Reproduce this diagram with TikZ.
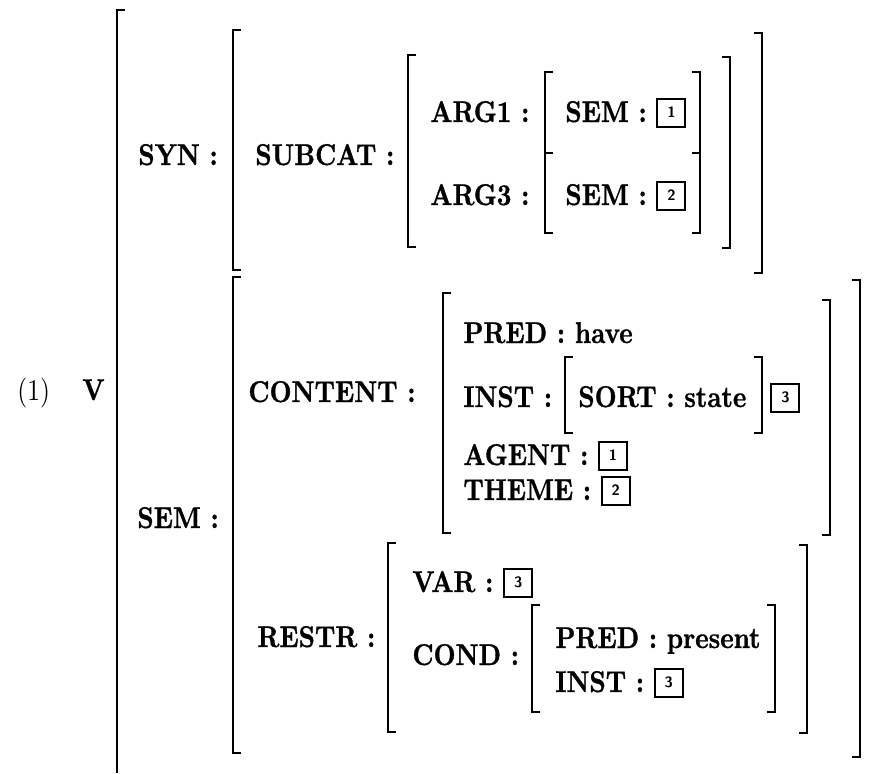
\documentclass[tikz,border=0pt]{standalone}
\usepackage{fontspec}
\usepackage{tikz}
\newfontfamily\avmfont{lmroman10}[Extension=.otf, UprightFont=*-regular, BoldFont=*-bold, FakeStretch=0.85, BoldFeatures={FakeBold=1}]

\newcommand{\tagnum}[1]{{\setlength{\fboxsep}{1.5pt}\setlength{\fboxrule}{1pt}\fbox{\makebox[10pt][c]{\rule[-0.6pt]{0pt}{10pt}\raisebox{2.2pt}{\fontsize{7.5}{7.5}\selectfont\sffamily\bfseries #1}}}}}
\newcommand{\lbrk}[3]{\draw[brk] (#1+8,#2) -- (#1,#2) -- (#1,#3) -- (#1+8,#3);}
\newcommand{\rbrk}[3]{\draw[brk] (#1-8,#2) -- (#1,#2) -- (#1,#3) -- (#1-8,#3);}

\begin{document}
\begin{tikzpicture}[
x=0.5pt, y=-0.5pt,
feat/.style={anchor=base west, inner sep=0pt, font=\avmfont\fontsize{15}{18}\selectfont\bfseries},
plain/.style={anchor=base west, inner sep=0pt, font=\avmfont\fontsize{15}{18}\selectfont},
brk/.style={line width=1.4pt, line join=miter}
]
\useasboundingbox (0,0) rectangle (885,773);

% labels
\node[plain] (num) at (17,400) {(1)};
\node[feat] (cat) at (82,400) {V};
\node[feat] (syn) at (138,165) {SYN :};
\node[feat] (subcat) at (255,165) {SUBCAT :};
\node[feat] (argone) at (430,122) {ARG1 :};
\node[feat] (argthree) at (430,205) {ARG3 :};
\node[feat] (semone) at (565,122) {SEM : \tagnum{1}};
\node[feat] (semtwo) at (565,205) {SEM : \tagnum{2}};
\node[feat] (sem) at (137,528) {SEM :};
\node[feat] (content) at (248,402) {CONTENT :};
\node[feat] (pred) at (463,343) {PRED : have};
\node[feat] (inst) at (463,407) {INST :};
\node[feat] (sort) at (578,407) {SORT : state};
\node[feat] (insttag) at (770,407) {\tagnum{3}};
\node[feat] (agent) at (463,465) {AGENT : \tagnum{1}};
\node[feat] (theme) at (463,500) {THEME : \tagnum{2}};
\node[feat] (restr) at (257,647) {RESTR :};
\node[feat] (var) at (412,592) {VAR : \tagnum{3}};
\node[feat] (cond) at (412,665) {COND :};
\node[feat] (predp) at (555,648) {PRED : present};
\node[feat] (instp) at (555,692) {INST : \tagnum{3}};

% brackets
\draw[brk] (125,10) -- (117,10) -- (117,773);
\lbrk{233}{30}{270} \rbrk{762}{33}{273}
\lbrk{408}{55}{247} \rbrk{730}{57}{248}
\lbrk{545}{72}{153} \rbrk{700}{72}{153}
\lbrk{545}{153}{233} \rbrk{700}{153}{233}
\lbrk{233}{277}{753} \rbrk{860}{280}{757}
\lbrk{443}{293}{533} \rbrk{830}{300}{535}
\lbrk{565}{357}{433} \rbrk{762}{357}{433}
\lbrk{388}{543}{732} \rbrk{807}{545}{733}
\lbrk{532}{605}{712} \rbrk{775}{605}{712}
\end{tikzpicture}
\end{document}
